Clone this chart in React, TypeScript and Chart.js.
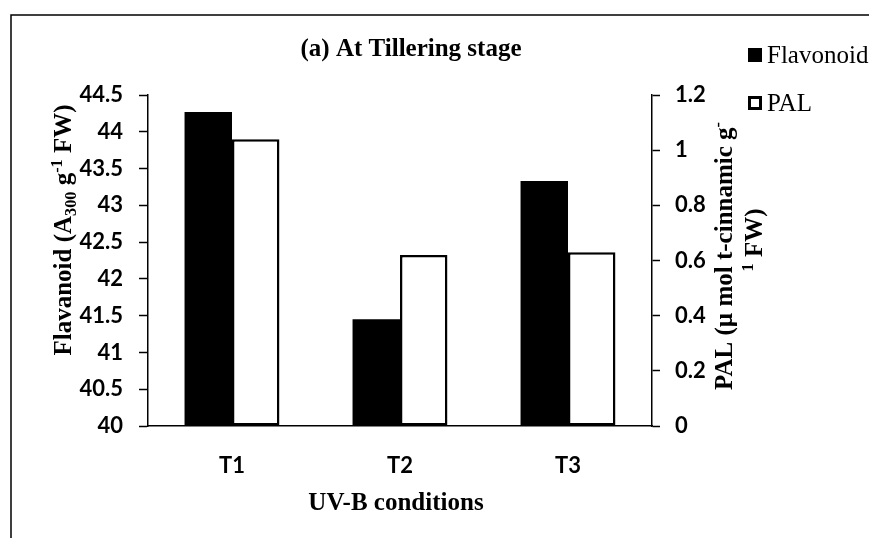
import { useEffect, useRef } from "react";
import { Chart, registerables } from "chart.js";

Chart.register(...registerables);

// ---- data ----
const categories = ["T1", "T2", "T3"];
const flavonoid = [44.27, 41.45, 43.33];
const pal = [1.04, 0.62, 0.63];
const leftTickValues = [40, 40.5, 41, 41.5, 42, 42.5, 43, 43.5, 44, 44.5];
const rightTickValues = [0, 0.2, 0.4, 0.6, 0.8, 1, 1.2];
const seriesNames = ["Flavonoid", "PAL"];
const chartTitle = "(a) At Tillering stage";
const xTitle = "UV-B conditions";

const SERIF = "'Liberation Serif', 'Times New Roman', serif";
const SANS = "Lato, 'Open Sans', sans-serif";

type Seg = { t: string; s?: number; dy?: number };

function drawRich(ctx: CanvasRenderingContext2D, segs: Seg[], size: number, bold: boolean) {
  // draws centered at (0,0) with alphabetic baseline
  let total = 0;
  const widths: number[] = [];
  for (const sg of segs) {
    const fs = size * (sg.s ?? 1);
    ctx.font = `${bold ? "bold " : ""}${fs}px ${SERIF}`;
    const w = ctx.measureText(sg.t).width;
    widths.push(w);
    total += w;
  }
  let x = -total / 2;
  ctx.textAlign = "left";
  ctx.textBaseline = "alphabetic";
  segs.forEach((sg, i) => {
    const fs = size * (sg.s ?? 1);
    ctx.font = `${bold ? "bold " : ""}${fs}px ${SERIF}`;
    ctx.fillText(sg.t, x, (sg.dy ?? 0) * size);
    x += widths[i];
  });
}

const decorPlugin = {
  id: "decor",
  beforeDraw(chart: any) {
    const ctx = chart.ctx as CanvasRenderingContext2D;
    ctx.save();
    ctx.fillStyle = "#ffffff";
    ctx.fillRect(0, 0, chart.width, chart.height);
    ctx.strokeStyle = "#000";
    ctx.lineWidth = 1.5;
    ctx.beginPath();
    ctx.moveTo(11, chart.height + 5);
    ctx.lineTo(11, 15);
    ctx.lineTo(chart.width + 5, 15);
    ctx.stroke();
    ctx.restore();
  },
  afterDraw(chart: any) {
    const ctx = chart.ctx as CanvasRenderingContext2D;
    const area = chart.chartArea;
    ctx.save();
    ctx.fillStyle = "#000";

    // chart title
    ctx.font = `bold 25px ${SERIF}`;
    ctx.textAlign = "center";
    ctx.textBaseline = "alphabetic";
    ctx.fillText(chartTitle, 411, 56);

    // legend
    ctx.fillRect(748, 48, 14, 14);
    ctx.lineWidth = 3;
    ctx.strokeStyle = "#000";
    ctx.strokeRect(749.5, 97.5, 11, 11);
    ctx.font = `25px ${SERIF}`;
    ctx.textAlign = "left";
    ctx.fillText(seriesNames[0], 767, 63);
    ctx.fillText(seriesNames[1], 767, 111);

    // x axis title
    ctx.font = `bold 25px ${SERIF}`;
    ctx.textAlign = "center";
    ctx.fillText(xTitle, (area.left + area.right) / 2 - 4, 510);

    // left axis title
    ctx.save();
    ctx.translate(71, 230);
    ctx.rotate(-Math.PI / 2);
    drawRich(
      ctx,
      [
        { t: "Flavanoid (A" },
        { t: "300", s: 0.65, dy: 0.18 },
        { t: " g" },
        { t: "-1", s: 0.65, dy: -0.38 },
        { t: " FW)" },
      ],
      25,
      true
    );
    ctx.restore();

    // right axis title, line 1
    ctx.save();
    ctx.translate(732, 256);
    ctx.rotate(-Math.PI / 2);
    drawRich(
      ctx,
      [
        { t: "PAL (\u00b5 mol t-cinnamic g" },
        { t: "-", s: 0.65, dy: -0.38 },
      ],
      25,
      true
    );
    ctx.restore();

    // right axis title, line 2
    ctx.save();
    ctx.translate(762, 240);
    ctx.rotate(-Math.PI / 2);
    drawRich(
      ctx,
      [
        { t: "1", s: 0.65, dy: -0.38 },
        { t: " FW)" },
      ],
      25,
      true
    );
    ctx.restore();

    ctx.restore();
  },
};

export default function App() {
  const ref = useRef<HTMLCanvasElement | null>(null);

  useEffect(() => {
    if (!ref.current) return;
    const chart = new Chart(ref.current, {
      type: "bar",
      data: {
        labels: categories,
        datasets: [
          {
            label: seriesNames[0],
            data: flavonoid,
            yAxisID: "y",
            backgroundColor: "#000000",
            borderWidth: 0,
          },
          {
            label: seriesNames[1],
            data: pal,
            yAxisID: "y1",
            backgroundColor: "#ffffff",
            borderColor: "#000000",
            borderWidth: 2.5,
            borderSkipped: false,
          },
        ],
      },
      options: {
        responsive: false,
        animation: false,
        devicePixelRatio: 1,
        datasets: {
          bar: { categoryPercentage: 0.565, barPercentage: 1.0 },
        },
        layout: { padding: { left: 0, right: 0, top: 95, bottom: 0 } },
        plugins: {
          legend: { display: false },
          title: { display: false },
          tooltip: { enabled: false },
        },
        scales: {
          x: {
            grid: { display: false, drawTicks: false },
            border: { display: true, color: "#000", width: 1.5 },
            ticks: {
              color: "#000",
              padding: 27,
              font: { family: SANS, size: 22, weight: "bold" },
            },
            afterFit: (s: any) => {
              s.height = 112;
            },
          },
          y: {
            position: "left",
            min: 40,
            max: 44.5,
            afterBuildTicks: (s: any) => {
              s.ticks = leftTickValues.map((v) => ({ value: v }));
            },
            grid: {
              drawOnChartArea: false,
              drawTicks: true,
              tickLength: 9,
              tickColor: "#000",
              tickWidth: 1.5,
            },
            border: { display: true, color: "#000", width: 1.5 },
            ticks: {
              color: "#000",
              padding: 16,
              font: { family: SANS, size: 22, weight: "bold" },
              callback: (v: any) => String(v),
            },
            afterFit: (s: any) => {
              s.width = 148;
            },
          },
          y1: {
            position: "right",
            min: 0,
            max: 1.2,
            afterBuildTicks: (s: any) => {
              s.ticks = rightTickValues.map((v) => ({ value: v }));
            },
            grid: {
              drawOnChartArea: false,
              drawTicks: true,
              tickLength: 8,
              tickColor: "#000",
              tickWidth: 1.5,
            },
            border: { display: true, color: "#000", width: 1.5 },
            ticks: {
              color: "#000",
              padding: 15,
              font: { family: SANS, size: 22, weight: "bold" },
              callback: (v: any) => String(v),
            },
            afterFit: (s: any) => {
              s.width = 217;
            },
          },
        },
      },
      plugins: [decorPlugin],
    });
    return () => chart.destroy();
  }, []);

  return (
    <div style={{ position: "fixed", left: 0, top: 0, width: 869, height: 538, background: "#fff" }}>
      <canvas ref={ref} width={869} height={538} style={{ display: "block" }} />
    </div>
  );
}
